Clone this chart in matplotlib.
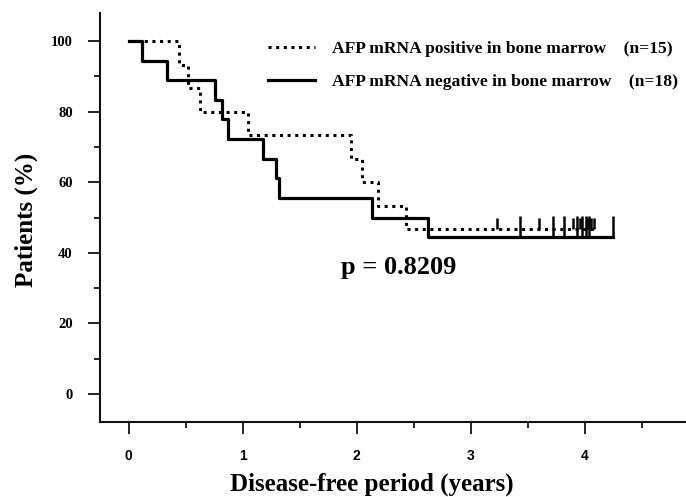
import matplotlib
matplotlib.use("Agg")
import matplotlib.pyplot as plt
from matplotlib.ticker import MultipleLocator

# Kaplan-Meier data (years, % disease-free)
pos_times = [0, 0.44, 0.52, 0.63, 1.05, 1.95, 2.05, 2.19, 2.43, 4.08]
pos_surv = [100, 93.3, 86.7, 80.0, 73.3, 66.7, 60.0, 53.3, 46.7, 46.7]
pos_censor = [3.23, 3.60, 3.90, 3.96, 4.02, 4.06, 4.08]

neg_times = [0, 0.12, 0.34, 0.76, 0.82, 0.87, 1.18, 1.29, 1.32, 2.14, 2.63, 4.25]
neg_surv = [100, 94.4, 88.9, 83.3, 77.8, 72.2, 66.7, 61.1, 55.6, 50.0, 44.4, 44.4]
neg_censor = [3.43, 3.72, 3.82, 3.93, 3.98, 4.01, 4.04, 4.25]

pos_label = "AFP mRNA positive in bone marrow    (n=15)"
neg_label = "AFP mRNA negative in bone marrow    (n=18)"
p_text = "p = 0.8209"
x_ticks = [0, 1, 2, 3, 4]
y_ticks = [0, 20, 40, 60, 80, 100]

serif = "Liberation Serif"
sans = "Liberation Sans"

fig = plt.figure(figsize=(6.86, 4.97), dpi=100)
ax = fig.add_axes([0.1458, 0.1509, 0.8542, 0.8229])

ax.step(pos_times, pos_surv, where="post", color="black", lw=2.2,
        linestyle=(0, (1, 1.5)), dash_capstyle="butt", label=pos_label)
ax.step(neg_times, neg_surv, where="post", color="black", lw=2.3,
        label=neg_label)

ax.plot(pos_censor, [pos_surv[-1]] * len(pos_censor), linestyle="none",
        marker=2, markersize=8, markeredgewidth=1.8, color="black")
ax.plot(neg_censor, [neg_surv[-1]] * len(neg_censor), linestyle="none",
        marker=2, markersize=15, markeredgewidth=1.8, color="black")

ax.set_xlim(-0.25, 4.89)
ax.set_ylim(-8, 108)
ax.set_xticks(x_ticks)
ax.set_yticks(y_ticks)
ax.xaxis.set_minor_locator(MultipleLocator(0.5))
ax.yaxis.set_minor_locator(MultipleLocator(10))

for s in ["top", "right"]:
    ax.spines[s].set_visible(False)
for s in ["left", "bottom"]:
    ax.spines[s].set_linewidth(1.5)
    ax.spines[s].set_color("#111111")

ax.tick_params(which="major", direction="out", length=8.6, width=1.3, pad=11, color="#111111")
ax.tick_params(which="minor", direction="out", length=4.3, width=1.3, color="#111111")
ax.tick_params(axis="x", which="major", pad=11)

for lab in ax.get_yticklabels():
    lab.set_fontfamily(serif)
    lab.set_fontweight("bold")
    lab.set_fontsize(10.5)
for lab in ax.get_xticklabels():
    lab.set_fontfamily(sans)
    lab.set_fontweight("bold")
    lab.set_fontsize(10)

ax.set_xlabel("Disease-free period (years)", fontfamily=serif, fontweight="bold", fontsize=18)
ax.xaxis.set_label_coords(0.464, -0.152)
ax.xaxis.label.set_va("center")
ax.set_ylabel("Patients (%)", fontfamily=serif, fontweight="bold", fontsize=18)
ax.yaxis.set_label_coords(-0.126, 0.494)
ax.yaxis.label.set_va("center")

ax.text(1.86, 35.7, p_text, fontfamily=serif, fontweight="bold", fontsize=19, va="center", ha="left")

leg = ax.legend(loc="upper left", bbox_to_anchor=(0.287, 0.933), frameon=False,
                prop={"family": serif, "weight": "bold", "size": 12.6},
                handlelength=2.65, handletextpad=1.0, labelspacing=1.0,
                borderpad=0, borderaxespad=0)

fig.savefig("out.png", dpi=100)
